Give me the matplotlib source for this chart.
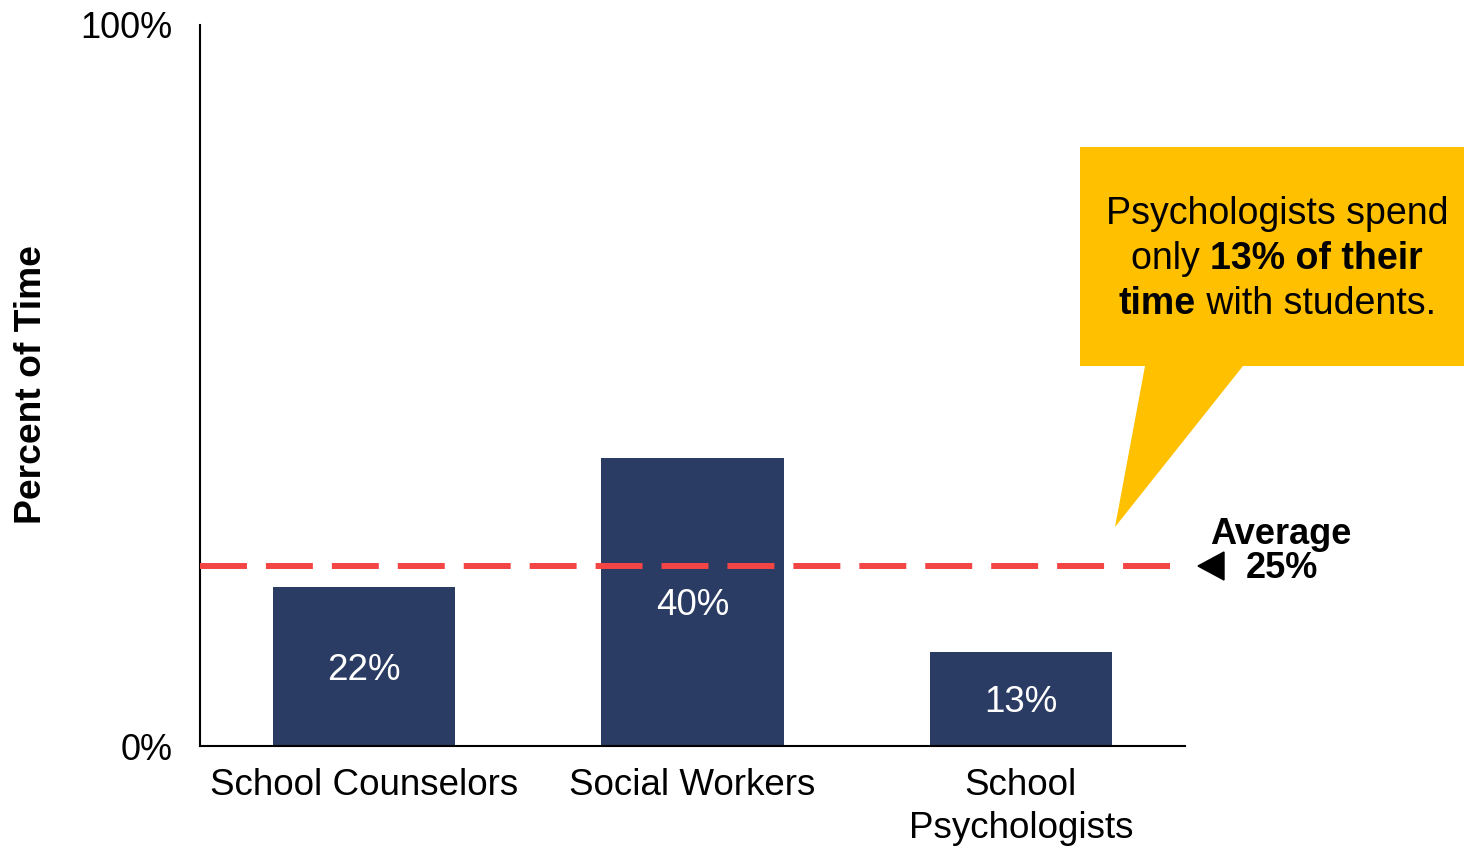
import matplotlib
matplotlib.use("Agg")
import matplotlib.pyplot as plt
from matplotlib.patches import Polygon

plt.rcParams['font.family'] = ['Liberation Sans', 'DejaVu Sans']

# Data
categories = ["School Counselors", "Social Workers", "School\nPsychologists"]
values = [22, 40, 13]
average = 25
value_labels = ["22%", "40%", "13%"]
ytick_values = [0, 100]
ytick_labels = ["0%", "100%"]

NAVY = "#2A3C63"
RED = "#F44545"
GOLD = "#FFC000"

W, H = 1464, 848
fig = plt.figure(figsize=(W / 100, H / 100), dpi=100)

def fx(px):
    return px / W

def fy(py):
    return 1 - py / H

ax = fig.add_axes([fx(200), fy(746), fx(1185) - fx(200), fy(25) - fy(746)])

x = list(range(len(categories)))
ax.bar(x, values, width=0.556, color=NAVY, zorder=2)
ax.set_xlim(-0.5, 2.5)
ax.set_ylim(0, 100)

for xi, v, lab in zip(x, values, value_labels):
    ax.annotate(lab, (xi, v / 2), xytext=(0, -2.5), textcoords="offset points",
                ha="center", va="center", color="white", fontsize=26.5,
                zorder=4)

# Average reference line
ax.axhline(average, color=RED, lw=4.3, linestyle=(0, (7.86, 3.18)), zorder=3)

ax.set_xticks(x)
ax.set_xticklabels(categories, fontsize=26.5, linespacing=1.3)
ax.set_yticks(ytick_values)
ax.set_yticklabels(ytick_labels, fontsize=26)
ax.tick_params(axis="x", length=0, pad=15.5)
ax.tick_params(axis="y", length=0, pad=20)

for side in ["top", "right"]:
    ax.spines[side].set_visible(False)
ax.spines["left"].set_linewidth(1.5)
ax.spines["bottom"].set_linewidth(1.5)

fig.text(fx(32), fy(385), "Percent of Time", rotation=90, ha="center",
         va="center", fontsize=26.8, fontweight="bold")

# Average label with left-pointing marker
fig.text(fx(1281), fy(535), "Average", ha="center", va="center",
         fontsize=26, fontweight="bold")
fig.text(fx(1282), fy(569), "25%", ha="center", va="center",
         fontsize=26, fontweight="bold")
tri = Polygon([(fx(1198), fy(566)), (fx(1224), fy(552)), (fx(1224), fy(580))],
              closed=True, transform=fig.transFigure, color="black")
fig.add_artist(tri)

# Callout box with pointer
callout = Polygon([(fx(1080), fy(147)), (fx(1470), fy(147)), (fx(1470), fy(366)),
                   (fx(1243), fy(366)), (fx(1115), fy(527)), (fx(1145), fy(366)),
                   (fx(1080), fy(366))],
                  closed=True, transform=fig.transFigure, facecolor=GOLD,
                  edgecolor="none", clip_on=False)
fig.add_artist(callout)

callout_lines = [
    [("Psychologists spend", "normal")],
    [("only ", "normal"), ("13% of their", "bold")],
    [("time", "bold"), (" with students.", "normal")],
]
line_y = [214, 259, 304]
cx = 1277
fig.canvas.draw()
renderer = fig.canvas.get_renderer()
for parts, py in zip(callout_lines, line_y):
    texts = []
    for s, wt in parts:
        t = fig.text(0, fy(py), s, ha="left", va="center", fontsize=27,
                     fontweight=wt)
        texts.append(t)
    widths = [t.get_window_extent(renderer).width for t in texts]
    total = sum(widths)
    start = cx - total / 2
    for t, w in zip(texts, widths):
        t.set_x(fx(start))
        start += w

fig.savefig("out.png", dpi=100)
